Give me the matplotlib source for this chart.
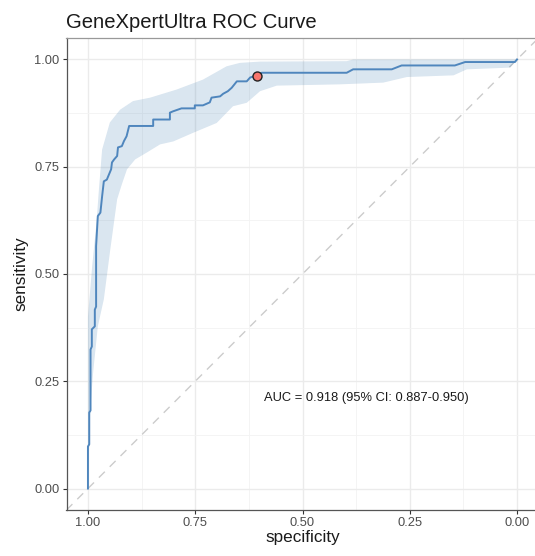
import numpy as np
import matplotlib.pyplot as plt
from matplotlib.ticker import MultipleLocator

plt.rcParams['font.family'] = ['Liberation Sans', 'DejaVu Sans']

# ROC curve (specificity, sensitivity)
roc_spec = [1.0, 1.0, 0.997, 0.997, 0.994, 0.994, 0.991, 0.991, 0.984, 0.984,
            0.981, 0.981, 0.977, 0.971, 0.967, 0.963, 0.956, 0.946, 0.944, 0.939,
            0.932, 0.930, 0.921, 0.916, 0.910, 0.904, 0.848, 0.848, 0.809, 0.809,
            0.802, 0.782, 0.751, 0.751, 0.732, 0.716, 0.712, 0.692, 0.685, 0.674,
            0.665, 0.653, 0.630, 0.622, 0.606, 0.595, 0.397, 0.382, 0.292, 0.269,
            0.145, 0.121, 0.005, 0.0]
roc_sens = [0.0, 0.098, 0.103, 0.177, 0.182, 0.324, 0.331, 0.371, 0.378, 0.417,
            0.424, 0.565, 0.635, 0.643, 0.681, 0.716, 0.720, 0.744, 0.760, 0.767,
            0.775, 0.795, 0.798, 0.810, 0.821, 0.845, 0.845, 0.860, 0.860, 0.876,
            0.879, 0.886, 0.886, 0.893, 0.893, 0.900, 0.911, 0.914, 0.920, 0.926,
            0.934, 0.949, 0.949, 0.958, 0.963, 0.969, 0.969, 0.977, 0.977, 0.986,
            0.986, 0.994, 0.994, 1.0]

# 95% CI band for sensitivity
ci_upper_spec = [1.0, 0.99, 0.98, 0.975, 0.967, 0.949, 0.925, 0.895, 0.855, 0.793,
                 0.732, 0.677, 0.646, 0.599, 0.397, 0.382, 0.0]
ci_upper_sens = [0.40, 0.52, 0.62, 0.690, 0.790, 0.853, 0.883, 0.903, 0.911, 0.930,
                 0.953, 0.984, 0.992, 0.995, 0.996, 1.0, 1.0]
ci_lower_spec = [1.0, 0.995, 0.988, 0.977, 0.963, 0.948, 0.932, 0.921, 0.909, 0.890,
                 0.863, 0.832, 0.801, 0.755, 0.700, 0.662, 0.630, 0.599, 0.560, 0.413,
                 0.312, 0.257, 0.148, 0.117, 0.016, 0.0]
ci_lower_sens = [0.0, 0.177, 0.270, 0.378, 0.441, 0.557, 0.674, 0.709, 0.744, 0.767,
                 0.783, 0.802, 0.809, 0.829, 0.852, 0.891, 0.899, 0.926, 0.939, 0.942,
                 0.946, 0.959, 0.963, 0.977, 0.981, 1.0]

best_spec = [0.605]
best_sens = [0.962]

ticks = [0.0, 0.25, 0.5, 0.75, 1.0]
auc_label = 'AUC = 0.918 (95% CI: 0.887-0.950)'

fig = plt.figure(figsize=(5.35, 5.56), dpi=100)
ax = fig.add_axes([66.5 / 535, 46 / 556, 472 / 535, 472 / 556])

ax.set_xlim(1.05, -0.05)
ax.set_ylim(-0.05, 1.05)

# grid
ax.set_xticks(ticks)
ax.set_yticks(ticks)
ax.xaxis.set_minor_locator(MultipleLocator(0.125))
ax.yaxis.set_minor_locator(MultipleLocator(0.125))
ax.grid(True, which='major', color='#ebebeb', linewidth=1.0, zorder=0)
ax.grid(True, which='minor', color='#f3f3f3', linewidth=0.6, zorder=0)
ax.set_axisbelow(True)
ax.tick_params(which='minor', length=0)

# diagonal reference
ax.plot([1.05, -0.05], [-0.05, 1.05], color='#cccccc', linestyle=(0, (6, 5)),
        linewidth=1.0, zorder=1)

# CI band
band_x = np.concatenate([ci_upper_spec, ci_lower_spec[::-1]])
band_y = np.concatenate([ci_upper_sens, ci_lower_sens[::-1]])
ax.fill(band_x, band_y, color='#4682b4', alpha=0.2, linewidth=0, zorder=2)

# ROC curve
ax.plot(roc_spec, roc_sens, color='#4f86bd', linewidth=1.4, zorder=3)

# optimal threshold
ax.scatter(best_spec, best_sens, s=42, facecolor='#f8766d', edgecolor='#222222',
           linewidth=1.0, zorder=4)

ax.text(0.352, 0.21, auc_label, fontsize=9.3, color='#1a1a1a',
        ha='center', va='center')

ax.set_xticklabels(['%.2f' % t for t in ticks])
ax.set_yticklabels(['%.2f' % t for t in ticks])
ax.tick_params(which='major', length=3, width=0.8, color='#333333',
               labelsize=9.3, labelcolor='#4d4d4d', pad=2)

for side in ['top', 'right']:
    ax.spines[side].set_color('#999999')
    ax.spines[side].set_linewidth(0.9)
for side in ['left', 'bottom']:
    ax.spines[side].set_color('#555555')
    ax.spines[side].set_linewidth(0.9)

ax.set_xlabel('specificity', fontsize=12.3, color='#1a1a1a', labelpad=1)
ax.set_ylabel('sensitivity', fontsize=12.3, color='#1a1a1a', labelpad=4)
ax.set_title('GeneXpertUltra ROC Curve', fontsize=14.6, color='#1a1a1a',
             loc='left', pad=7)

fig.savefig('out.png', dpi=100)
